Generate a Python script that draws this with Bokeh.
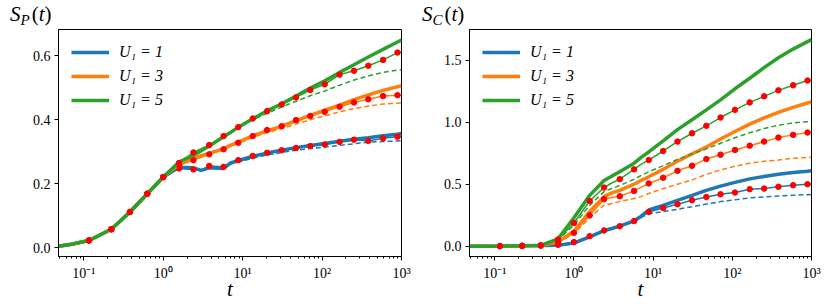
from bokeh.plotting import figure
from bokeh.models import Range1d, FixedTicker, Div
from bokeh.layouts import row, column
from bokeh.embed import file_html
from bokeh.resources import INLINE

# ---------------- data ----------------
T = [0.048, 0.07, 0.116, 0.222, 0.381, 0.63, 1.0, 1.58, 2.4, 3.0, 3.79, 5.75, 7.0,
     8.8, 13.4, 20.3, 31, 47, 71, 108, 166, 252, 382, 586, 890, 1000]
T_MARK = [0.116, 0.222, 0.381, 0.63, 1.0, 1.58, 2.4, 3.79, 5.75, 8.8, 13.4, 20.3,
          31, 47, 71, 108, 166, 252, 382, 586, 890]

U_LABELS = ["U₁ = 1", "U₁ = 3", "U₁ = 5"]
COLORS = ["#1f77b4", "#ff7f0e", "#2ca02c"]

X_TICKS = [0.1, 1, 10, 100, 1000]
X_TICK_LABELS = ["10⁻¹", "10⁰", "10¹", "10²", "10³"]
P_Y_TICKS = [0.0, 0.2, 0.4, 0.6]
P_Y_TICK_LABELS = ["0.0", "0.2", "0.4", "0.6"]
C_Y_TICKS = [0.0, 0.5, 1.0, 1.5]
C_Y_TICK_LABELS = ["0.0", "0.5", "1.0", "1.5"]

# S_P(t)
P_BLUE_THICK = [0.005, 0.011, 0.023, 0.058, 0.112, 0.169, 0.221, 0.252, 0.250, 0.242, 0.250, 0.248, 0.265,
                0.272, 0.286, 0.296, 0.305, 0.313, 0.320, 0.326, 0.333, 0.339, 0.344, 0.350, 0.355, 0.357]
P_BLUE_DOT = [0.005, 0.011, 0.023, 0.058, 0.112, 0.169, 0.221, 0.248, 0.245, 0.243, 0.256, 0.253, 0.262,
              0.274, 0.287, 0.297, 0.305, 0.312, 0.318, 0.323, 0.331, 0.338, 0.334, 0.342, 0.347, 0.348]
P_BLUE_DASH = [0.005, 0.011, 0.023, 0.058, 0.112, 0.169, 0.221, 0.250, 0.248, 0.243, 0.250, 0.250, 0.262,
               0.268, 0.280, 0.290, 0.298, 0.305, 0.310, 0.315, 0.320, 0.325, 0.330, 0.332, 0.334, 0.335]
P_ORANGE_THICK = [0.005, 0.011, 0.023, 0.058, 0.112, 0.169, 0.221, 0.262, 0.280, 0.288, 0.295, 0.310, 0.320,
                  0.330, 0.350, 0.365, 0.380, 0.397, 0.414, 0.430, 0.446, 0.463, 0.478, 0.492, 0.503, 0.506]
P_ORANGE_DOT = [0.005, 0.011, 0.023, 0.058, 0.112, 0.169, 0.221, 0.257, 0.274, 0.283, 0.292, 0.308, 0.318,
                0.328, 0.349, 0.368, 0.380, 0.399, 0.412, 0.425, 0.441, 0.454, 0.464, 0.474, 0.477, 0.478]
P_ORANGE_DASH = [0.005, 0.011, 0.023, 0.058, 0.112, 0.169, 0.221, 0.258, 0.276, 0.285, 0.293, 0.308, 0.317,
                 0.326, 0.345, 0.360, 0.372, 0.387, 0.400, 0.412, 0.425, 0.435, 0.443, 0.449, 0.452, 0.453]
P_GREEN_THICK = [0.005, 0.011, 0.023, 0.058, 0.112, 0.169, 0.221, 0.268, 0.290, 0.303, 0.318, 0.347, 0.360,
                 0.377, 0.403, 0.428, 0.450, 0.474, 0.499, 0.522, 0.548, 0.572, 0.596, 0.620, 0.643, 0.649]
P_GREEN_DOT = [0.005, 0.011, 0.023, 0.058, 0.112, 0.169, 0.221, 0.265, 0.298, 0.310, 0.321, 0.349, 0.362,
               0.377, 0.404, 0.427, 0.448, 0.470, 0.493, 0.511, 0.541, 0.553, 0.569, 0.587, 0.610, 0.612]
P_GREEN_DASH = [0.005, 0.011, 0.023, 0.058, 0.112, 0.169, 0.221, 0.266, 0.292, 0.305, 0.318, 0.346, 0.360,
                0.375, 0.400, 0.420, 0.440, 0.458, 0.475, 0.490, 0.508, 0.524, 0.537, 0.548, 0.555, 0.556]

# S_C(t)
C_BLUE_THICK = [0.0, 0.0, 0.001, 0.003, 0.006, 0.008, 0.025, 0.075, 0.125, 0.143, 0.162, 0.205, 0.240,
                0.292, 0.330, 0.370, 0.410, 0.450, 0.485, 0.515, 0.543, 0.563, 0.580, 0.595, 0.605, 0.608]
C_BLUE_DOT = [0.0, 0.0, 0.001, 0.003, 0.006, 0.011, 0.033, 0.081, 0.127, 0.145, 0.162, 0.203, 0.235,
              0.276, 0.308, 0.338, 0.371, 0.397, 0.419, 0.433, 0.460, 0.465, 0.479, 0.492, 0.500, 0.501]
C_BLUE_DASH = [0.0, 0.0, 0.001, 0.003, 0.006, 0.010, 0.030, 0.078, 0.125, 0.143, 0.160, 0.200, 0.230,
               0.262, 0.280, 0.298, 0.318, 0.340, 0.360, 0.375, 0.390, 0.398, 0.405, 0.411, 0.416, 0.417]
C_ORANGE_THICK = [0.0, 0.0, 0.001, 0.003, 0.006, 0.035, 0.120, 0.280, 0.400, 0.430, 0.450, 0.500, 0.530,
                  0.560, 0.620, 0.685, 0.745, 0.800, 0.865, 0.925, 0.985, 1.035, 1.080, 1.120, 1.155, 1.163]
C_ORANGE_DOT = [0.0, 0.0, 0.001, 0.003, 0.006, 0.032, 0.108, 0.249, 0.379, 0.393, 0.403, 0.446, 0.475,
                0.506, 0.552, 0.608, 0.649, 0.703, 0.738, 0.776, 0.811, 0.844, 0.876, 0.898, 0.917, 0.918]
C_ORANGE_DASH = [0.0, 0.0, 0.001, 0.003, 0.006, 0.030, 0.100, 0.230, 0.330, 0.345, 0.360, 0.385, 0.400,
                 0.425, 0.465, 0.500, 0.535, 0.580, 0.615, 0.645, 0.670, 0.685, 0.695, 0.710, 0.716, 0.717]
C_GREEN_THICK = [0.0, 0.0, 0.001, 0.003, 0.006, 0.060, 0.230, 0.410, 0.530, 0.565, 0.600, 0.670, 0.715,
                 0.760, 0.850, 0.940, 1.020, 1.100, 1.180, 1.270, 1.355, 1.440, 1.520, 1.590, 1.650, 1.668]
C_GREEN_DOT = [0.0, 0.0, 0.001, 0.003, 0.006, 0.054, 0.187, 0.365, 0.473, 0.510, 0.541, 0.620, 0.660,
               0.695, 0.768, 0.844, 0.911, 0.971, 1.038, 1.100, 1.160, 1.209, 1.257, 1.298, 1.336, 1.338]
C_GREEN_DASH = [0.0, 0.0, 0.001, 0.003, 0.006, 0.050, 0.170, 0.330, 0.440, 0.465, 0.490, 0.540, 0.570,
                0.600, 0.650, 0.700, 0.745, 0.785, 0.830, 0.875, 0.915, 0.950, 0.975, 0.995, 1.004, 1.006]

FONT = "Liberation Serif"
MARK_IDX = [i for i, t in enumerate(T) if t in T_MARK]
DIV_H = 26
FIG_H = 304 - DIV_H


def minor_ticks():
    out = []
    for d in [0.01, 0.1, 1, 10, 100]:
        for k in range(2, 10):
            out.append(d * k)
    return out


def make_panel(thick, dots, dashes, y_range, yticks, ylabels, bl, br, width):
    p = figure(width=width, height=FIG_H, x_axis_type="log",
               x_range=Range1d(0.048, 1000), y_range=Range1d(*y_range),
               output_backend="svg", toolbar_location=None,
               min_border_left=bl, min_border_right=br,
               min_border_top=3, min_border_bottom=48)
    p.grid.visible = False
    p.outline_line_color = "black"
    p.outline_line_width = 1
    p.background_fill_color = "white"

    for k in range(3):
        c = COLORS[k]
        p.line(T, thick[k], line_width=3.5, color=c, legend_label=U_LABELS[k])
        p.line(T, dashes[k], line_width=1.5, color=c, line_dash="5 3")
        p.line(T, dots[k], line_width=1.5, color=c)
        p.scatter([T[i] for i in MARK_IDX], [dots[k][i] for i in MARK_IDX],
                  size=5.5, marker="circle", color="red", line_color="red")

    xa = p.xaxis[0]
    xa.ticker = FixedTicker(ticks=X_TICKS, minor_ticks=minor_ticks())
    xa.major_label_overrides = {t: l for t, l in zip(X_TICKS, X_TICK_LABELS)}
    ya = p.yaxis[0]
    ya.ticker = FixedTicker(ticks=yticks)
    ya.major_label_overrides = {t: l for t, l in zip(yticks, ylabels)}
    for ax in (xa, ya):
        ax.major_label_text_font = FONT
        ax.major_label_text_font_size = "14px"
        ax.major_label_text_color = "black"
        ax.axis_line_color = "black"
        ax.major_tick_line_color = "black"
        ax.minor_tick_line_color = "black"
        ax.major_tick_in = 0
        ax.major_tick_out = 4
        ax.minor_tick_in = 0
        ax.minor_tick_out = 2
    ya.minor_tick_line_color = None
    ya.major_label_standoff = 4
    xa.major_label_standoff = 5
    xa.axis_label = "t"
    xa.axis_label_text_font = FONT
    xa.axis_label_text_font_style = "italic"
    xa.axis_label_text_font_size = "21px"
    xa.axis_label_text_color = "black"
    xa.axis_label_standoff = -7

    leg = p.legend[0]
    leg.location = "top_left"
    leg.label_text_font = FONT
    leg.label_text_font_size = "16px"
    leg.label_text_font_style = "italic"
    leg.label_text_color = "black"
    leg.glyph_width = 38
    leg.glyph_height = 20
    leg.label_height = 20
    leg.label_standoff = 10
    leg.spacing = 4
    leg.margin = 8
    leg.padding = 5
    leg.border_line_alpha = 0
    leg.background_fill_alpha = 0.8
    return p


def make_title(sub, pad_left, width):
    html = ('<div style="font-family: \'Liberation Serif\', serif; font-size: 21px; '
            'line-height: 21px; padding-top: 4px; padding-left: %dpx; color: black; '
            'white-space: nowrap;">'
            '<i>S</i><i style="font-size: 15px; position: relative; top: 4px;">%s</i>'
            '<span style="padding-left: 2px;">(</span><i>t</i>)</div>') % (pad_left, sub)
    return Div(text=html, width=width, height=DIV_H, margin=0)


p1 = make_panel([P_BLUE_THICK, P_ORANGE_THICK, P_GREEN_THICK],
                [P_BLUE_DOT, P_ORANGE_DOT, P_GREEN_DOT],
                [P_BLUE_DASH, P_ORANGE_DASH, P_GREEN_DASH],
                (-0.027, 0.682), P_Y_TICKS, P_Y_TICK_LABELS, 58, 17, 418)
p2 = make_panel([C_BLUE_THICK, C_ORANGE_THICK, C_GREEN_THICK],
                [C_BLUE_DOT, C_ORANGE_DOT, C_GREEN_DOT],
                [C_BLUE_DASH, C_ORANGE_DASH, C_GREEN_DASH],
                (-0.083, 1.748), C_Y_TICKS, C_Y_TICK_LABELS, 51, 20, 413)

t1 = make_title("P", 10, 418)
t2 = make_title("C", 4, 413)

layout = row(column(t1, p1, spacing=0), column(t2, p2, spacing=0), spacing=0)
open("out.html", "w").write(file_html(layout, INLINE))
